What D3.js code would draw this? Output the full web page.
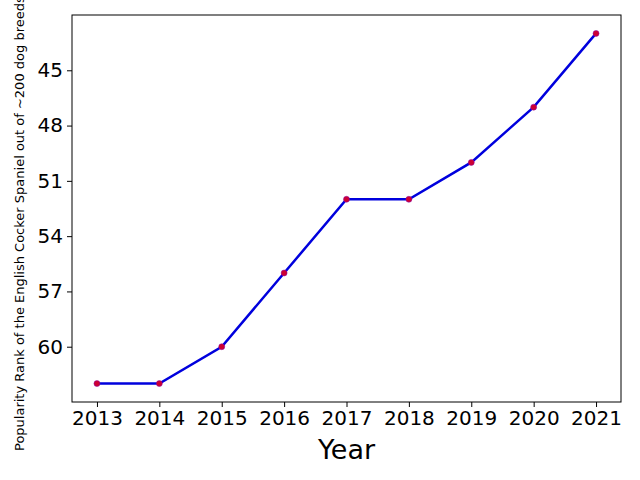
<html>
<script src="https://cdnjs.cloudflare.com/ajax/libs/d3/7.8.5/d3.min.js"></script>
<style>body{margin:0;background:#fff;} text{font-family:"DejaVu Sans",sans-serif;}</style>
<body>
<svg width="640" height="480"></svg>
<script>
const years = [2013, 2014, 2015, 2016, 2017, 2018, 2019, 2020, 2021];
const ranks = [62, 62, 60, 56, 52, 52, 50, 47, 43];
const yTicks = [45, 48, 51, 54, 57, 60];

const svg = d3.select("svg");
const L = 72, R = 621, T = 15, B = 402;
const x = d3.scaleLinear().domain([2012.6, 2021.4]).range([L, R]);
const y = d3.scaleLinear().domain([42, 63]).range([T, B]);

svg.append("rect").attr("x", L).attr("y", T).attr("width", R - L).attr("height", B - T)
  .attr("fill", "none").attr("stroke", "black");

const gx = svg.append("g").attr("transform", `translate(0,${B})`)
  .call(d3.axisBottom(x).tickValues(years).tickFormat(d3.format("d")).tickSize(5).tickPadding(4));
const gy = svg.append("g").attr("transform", `translate(${L},0)`)
  .call(d3.axisLeft(y).tickValues(yTicks).tickSize(5).tickPadding(4));
[gx, gy].forEach(g => {
  g.select(".domain").remove();
  g.selectAll("text").style("font-size", "20px").attr("fill", "black");
  g.selectAll("line").attr("stroke", "black");
});

svg.append("text").attr("x", (L + R) / 2).attr("y", 459).attr("text-anchor", "middle")
  .style("font-size", "27px").text("Year");
svg.append("text").attr("transform", `translate(24,451) rotate(-90)`)
  .attr("text-anchor", "start").style("font-size", "13px")
  .text("Popularity Rank of the English Cocker Spaniel out of ~200 dog breeds");

svg.append("path").datum(years.map((d, i) => [x(d), y(ranks[i])]))
  .attr("d", d3.line()).attr("fill", "none").attr("stroke", "#0000dd").attr("stroke-width", 2.5);
svg.selectAll("circle").data(years).join("circle")
  .attr("cx", d => x(d)).attr("cy", (d, i) => y(ranks[i])).attr("r", 3)
  .attr("fill", "#cc0033").attr("stroke", "#8800aa").attr("stroke-width", 0.5);
</script>
</body>
</html>
